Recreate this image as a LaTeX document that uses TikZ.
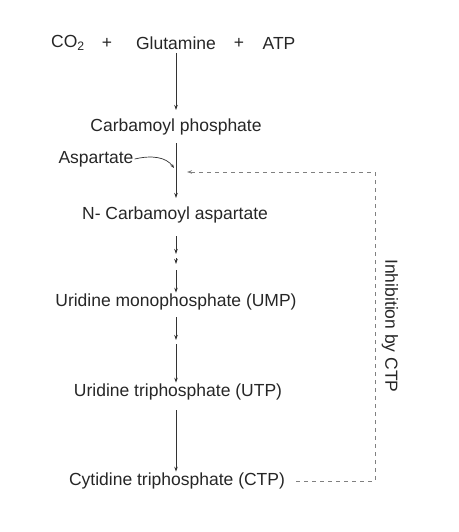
\documentclass[tikz,border=0pt]{standalone}
\usepackage{fontspec}
\setmainfont{Liberation Sans}
\usetikzlibrary{arrows.meta}
\begin{document}
\begin{tikzpicture}[x=1pt,y=-1pt,
  lbl/.style={inner sep=1pt,font=\fontsize{17.5}{20}\selectfont,text=black!85},
  flow/.style={draw=black!80,line width=0.8pt,-{Stealth[length=5pt,width=3.5pt]}},
  inhib/.style={draw=black!50,line width=0.8pt,dash pattern=on 4pt off 4pt,-{Stealth[length=5pt,width=3.5pt]}}]
\useasboundingbox (0,0) rectangle (458,532);
\node[lbl] (co2) at (68,43) {CO\textsubscript{2}};
\node[lbl] (p1) at (107,43) {+};
\node[lbl] (glu) at (176,43) {Glutamine};
\node[lbl] (p2) at (239,43) {+};
\node[lbl] (atp) at (279,43) {ATP};
\node[lbl] (cp) at (176,127) {Carbamoyl phosphate};
\node[lbl] (asp) at (96,159) {Aspartate};
\node[lbl] (nca) at (175,215) {N- Carbamoyl aspartate};
\node[lbl] (ump) at (176,302) {Uridine monophosphate (UMP)};
\node[lbl] (utp) at (178,392) {Uridine triphosphate (UTP)};
\node[lbl] (ctp) at (177,481) {Cytidine triphosphate (CTP)};
\node[lbl,rotate=-90] (inh) at (390,326) {Inhibition by CTP};
\coordinate (j) at (174,168);
\coordinate (c1) at (375,481);
\coordinate (c2) at (375,172);
\coordinate (c3) at (187,172);
\draw[flow] (176,53) -- (176,110);
\draw[flow] (176,143) -- (176,198);
\draw[draw=black!80,line width=0.7pt,-{Stealth[length=4pt,width=3pt]}] (asp.east) .. controls (152,155) and (166,157) .. (j);
\draw[flow] (176,236) -- (176,254);
\draw[flow] (176,258) -- (176,264);
\draw[flow] (176,270) -- (ump.north);
\draw[flow] (176,317) -- (176,340);
\draw[flow] (176,344) -- (utp.north -| 176,0);
\draw[flow] (176,410) -- (ctp.north -| 176,0);
\draw[inhib] (ctp.east) ++(10,0) -- (c1) -- (c2) -- (c3);
\end{tikzpicture}
\end{document}
